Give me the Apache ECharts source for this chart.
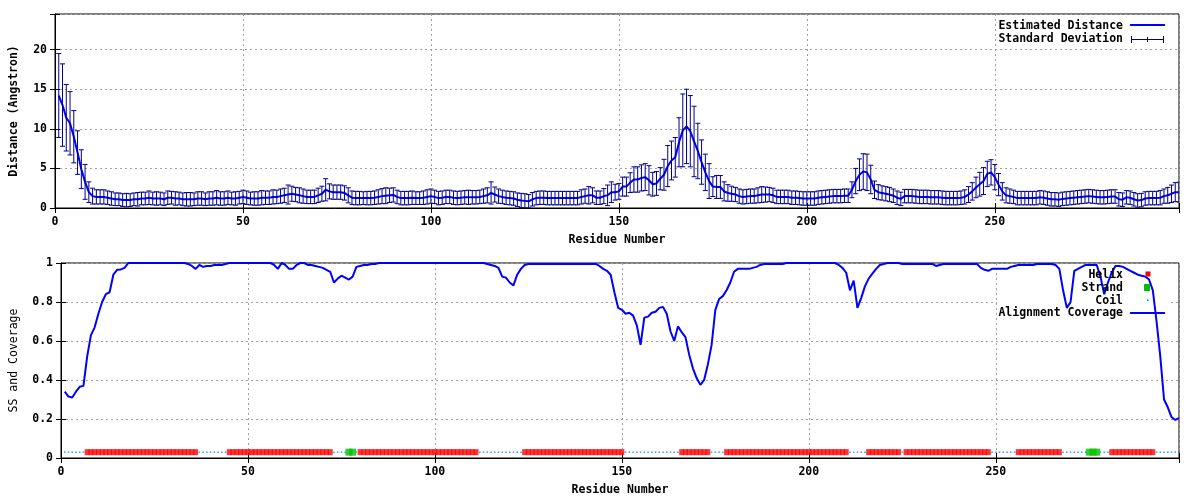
<!DOCTYPE html>
<html><head><meta charset="utf-8">
<script src="https://cdn.jsdelivr.net/npm/echarts@6/dist/echarts.min.js"></script>
<style>html,body{margin:0;padding:0;background:#fff}#chart{width:1200px;height:500px}</style>
</head><body><div id="chart"></div>
<script>
// Estimated distance per residue (residue 1..299)
const distance = [
 14.2,13.0,11.4,10.7,9.0,7.0,4.9,3.3,2.0,1.5,
 1.4,1.4,1.4,1.3,1.2,1.1,1.1,1.0,1.0,1.0,
 1.1,1.1,1.2,1.2,1.3,1.2,1.2,1.2,1.1,1.3,
 1.3,1.2,1.2,1.1,1.1,1.1,1.1,1.2,1.2,1.1,
 1.2,1.2,1.3,1.2,1.2,1.3,1.2,1.2,1.3,1.4,
 1.3,1.2,1.2,1.2,1.3,1.3,1.3,1.4,1.4,1.5,
 1.6,1.7,1.8,1.7,1.6,1.5,1.4,1.4,1.4,1.6,
 1.8,2.3,2.1,2.0,2.0,2.0,1.9,1.6,1.3,1.25,
 1.25,1.25,1.25,1.25,1.3,1.4,1.5,1.55,1.6,1.65,
 1.4,1.25,1.25,1.25,1.3,1.25,1.25,1.3,1.4,1.5,
 1.4,1.25,1.3,1.4,1.4,1.3,1.25,1.3,1.35,1.35,
 1.35,1.35,1.4,1.5,1.6,1.9,1.7,1.5,1.4,1.3,
 1.25,1.2,1.05,0.95,0.9,0.85,1.1,1.25,1.3,1.3,
 1.25,1.25,1.25,1.25,1.25,1.25,1.25,1.25,1.25,1.4,
 1.5,1.6,1.6,1.3,1.3,1.5,1.6,2.0,2.0,2.1,
 2.7,2.7,3.2,3.6,3.6,3.8,3.9,3.5,3.0,3.1,
 3.7,4.2,5.3,6.0,6.4,8.3,9.8,10.3,9.7,8.4,
 7.2,5.8,4.5,3.4,2.7,2.66,2.66,2.1,1.9,1.8,
 1.7,1.5,1.4,1.45,1.5,1.5,1.6,1.7,1.7,1.7,
 1.6,1.4,1.4,1.4,1.4,1.3,1.3,1.25,1.2,1.2,
 1.2,1.2,1.3,1.35,1.4,1.45,1.5,1.5,1.5,1.55,
 1.55,2.3,3.4,4.2,4.6,4.5,3.6,2.3,2.0,1.9,
 1.8,1.7,1.55,1.3,1.15,1.5,1.5,1.5,1.45,1.4,
 1.4,1.4,1.35,1.35,1.35,1.3,1.25,1.25,1.25,1.25,
 1.3,1.4,1.7,2.1,2.6,3.0,3.4,4.3,4.5,3.9,
 2.95,2.1,1.6,1.5,1.4,1.25,1.25,1.25,1.25,1.25,
 1.25,1.35,1.3,1.2,1.1,1.1,1.05,1.15,1.2,1.25,
 1.3,1.35,1.4,1.45,1.5,1.45,1.4,1.35,1.35,1.4,
 1.45,1.45,1.1,1.05,1.35,1.3,1.1,0.95,1.0,1.2,
 1.25,1.25,1.25,1.3,1.5,1.6,1.8,2.0,2.0
];
// Standard deviation per residue
const stdDev = [
 5.3,5.2,4.2,4.0,3.3,2.75,2.45,2.2,1.3,1.0,
 0.9,0.9,0.9,0.85,0.85,0.8,0.8,0.8,0.85,0.8,
 0.8,0.85,0.8,0.8,0.85,0.8,0.85,0.8,0.8,0.85,
 0.8,0.85,0.8,0.8,0.85,0.85,0.8,0.85,0.85,0.8,
 0.85,0.85,0.9,0.85,0.85,0.85,0.8,0.85,0.8,0.85,
 0.85,0.8,0.85,0.85,0.9,0.85,0.85,0.9,0.85,0.9,
 0.9,1.2,0.95,0.9,0.95,0.9,0.85,0.85,0.85,0.9,
 0.95,1.4,0.95,0.9,0.9,0.9,0.9,0.95,0.85,0.85,
 0.85,0.8,0.85,0.85,0.85,0.9,0.95,1.0,0.9,0.9,
 0.85,0.85,0.85,0.85,0.85,0.8,0.8,0.85,0.9,0.9,
 0.85,0.85,0.85,0.85,0.85,0.85,0.85,0.85,0.85,0.9,
 0.85,0.85,0.85,0.9,0.95,1.4,0.95,0.9,0.85,0.85,
 0.85,0.85,0.85,0.9,0.9,0.85,0.85,0.85,0.85,0.85,
 0.85,0.85,0.85,0.85,0.85,0.85,0.85,0.85,0.85,0.9,
 0.9,1.1,0.95,0.85,0.85,0.95,1.3,1.3,1.0,1.0,
 1.2,1.2,1.25,1.6,1.6,1.65,1.7,1.85,1.5,1.5,
 1.4,1.95,2.6,2.45,2.5,3.1,4.6,4.7,4.5,4.45,
 3.5,2.8,2.3,2.2,1.25,1.45,1.45,1.2,1.05,0.95,
 0.9,0.9,0.9,0.9,0.9,0.9,0.95,1.0,0.95,0.9,
 0.9,0.85,0.85,0.85,0.85,0.85,0.85,0.85,0.85,0.85,
 0.85,0.85,0.85,0.85,0.85,0.85,0.85,0.85,0.85,0.85,
 0.85,1.0,1.6,2.0,2.25,2.3,1.8,1.1,0.95,0.9,
 0.9,0.9,0.85,0.85,0.85,0.85,0.85,0.85,0.85,0.85,
 0.85,0.85,0.85,0.85,0.85,0.85,0.85,0.85,0.85,0.85,
 0.85,0.9,1.0,1.1,1.3,1.5,1.7,1.6,1.6,1.6,
 1.4,1.1,0.95,0.9,0.85,0.85,0.85,0.85,0.85,0.85,
 0.85,0.85,0.85,0.85,0.85,0.85,0.85,0.85,0.85,0.85,
 0.85,0.85,0.85,0.85,0.85,0.85,0.85,0.85,0.85,0.85,
 0.85,0.85,0.85,0.85,0.85,0.85,0.85,0.85,0.85,0.85,
 0.85,0.85,0.85,0.9,0.9,1.0,1.1,1.2,1.25
];
// Alignment coverage per residue
const coverage = [
 0.34,0.315,0.31,0.34,0.365,0.37,0.52,0.63,0.67,0.74,
 0.8,0.84,0.85,0.94,0.965,0.967,0.975,1,1,1,
 1,1,1,1,1,1,1,1,1,1,
 1,1,1,0.995,0.985,0.97,0.99,0.98,0.985,0.985,
 0.99,0.99,0.99,0.995,1,1,1,1,1,1,
 1,1,1,1,1,1,0.99,0.97,1,0.99,
 0.97,0.97,0.99,1,1,0.99,0.99,0.985,0.98,0.975,
 0.965,0.955,0.9,0.92,0.935,0.925,0.915,0.93,0.98,0.985,
 0.99,0.99,0.995,0.995,1,1,1,1,1,1,
 1,1,1,1,1,1,1,1,1,1,
 1,1,1,1,1,1,1,1,1,1,
 1,1,1,0.995,0.99,0.985,0.975,0.93,0.925,0.9,
 0.885,0.94,0.97,0.99,0.995,0.995,0.995,0.995,0.995,0.995,
 0.995,0.995,0.995,0.995,0.995,0.995,0.995,0.995,0.995,0.995,
 0.995,0.995,0.995,0.985,0.97,0.96,0.94,0.85,0.77,0.76,
 0.74,0.745,0.73,0.68,0.58,0.72,0.725,0.745,0.75,0.77,
 0.775,0.74,0.65,0.6,0.675,0.645,0.62,0.53,0.46,0.41,
 0.375,0.4,0.48,0.58,0.76,0.815,0.83,0.86,0.9,0.955,
 0.97,0.97,0.97,0.97,0.975,0.98,0.99,0.995,0.995,0.995,
 0.995,0.995,0.995,1,1,1,1,1,1,1,
 1,1,1,1,1,1,1,0.99,0.975,0.95,
 0.86,0.91,0.77,0.82,0.88,0.92,0.945,0.97,0.99,0.995,
 1,1,1,1,0.995,0.995,0.995,0.995,0.995,0.995,
 0.995,0.995,0.995,0.985,0.99,0.995,0.995,0.995,0.995,0.995,
 0.995,0.995,0.995,0.995,0.995,0.975,0.965,0.96,0.97,0.97,
 0.97,0.97,0.97,0.98,0.985,0.99,0.99,0.99,0.99,0.99,
 0.995,0.995,0.995,0.995,0.995,0.99,0.97,0.86,0.77,0.8,
 0.96,0.97,0.98,0.99,0.99,0.99,0.99,0.93,0.84,0.9,
 0.95,0.985,0.985,0.98,0.97,0.96,0.95,0.94,0.935,0.93,
 0.915,0.86,0.7,0.52,0.3,0.26,0.21,0.195,0.205
];
// Secondary structure segments [first, last residue]
const helixSegments = [[7,36],[45,72],[80,111],[124,150],[166,173],[178,210],[216,224],[226,248],[256,267],[281,292]];
const strandSegments = [[77,78],[275,277]];
const xTickValues = [0,50,100,150,200,250];
const distTickValues = [0,5,10,15,20];

const SS_LEVEL = 0.03;
const residues = distance.map((_, i) => i + 1);
const inSegs = (r, segs) => segs.some(s => r >= s[0] && r <= s[1]);
const helixPts = residues.filter(r => inSegs(r, helixSegments)).map(r => [r, SS_LEVEL]);
const strandPts = residues.filter(r => inSegs(r, strandSegments)).map(r => [r, SS_LEVEL]);
const coilPts = residues.filter(r => !inSegs(r, helixSegments) && !inSegs(r, strandSegments)).map(r => [r, SS_LEVEL]);

const FONT = '"DejaVu Sans Mono", "Liberation Mono", monospace';
const NAVY = '#00008b';
const BLUE = '#0000ff';
const lab = { fontFamily: FONT, fontSize: 11.5, fontWeight: 'bold', color: '#000' };
const gridLine = { show: true, lineStyle: { color: '#a0a0a0', type: [2, 3], width: 1 } };

function xAxes(gi) {
  return [{
    gridIndex: gi, type: 'value', min: 0, max: 299, interval: 50, position: 'bottom',
    axisLine: { show: true, lineStyle: { color: '#000' } },
    axisTick: { show: true, inside: true, length: 5, lineStyle: { color: '#000' } },
    axisLabel: Object.assign({ margin: 8, formatter: v => xTickValues.includes(v) ? String(v) : '' }, lab),
    splitLine: gridLine,
    name: 'Residue Number', nameLocation: 'middle', nameGap: 26, nameTextStyle: lab
  }, {
    gridIndex: gi, type: 'value', min: 0, max: 299, interval: 50, position: 'top',
    axisLine: { show: false }, axisLabel: { show: false }, splitLine: { show: false },
    axisTick: { show: true, inside: true, length: 5, lineStyle: { color: '#000' } }
  }];
}

const option = {
  animation: false,
  backgroundColor: '#fff',
  grid: [
    { left: 52, top: 14, right: 21, height: 194, show: true, borderColor: '#000', borderWidth: 1, containLabel: false },
    { left: 58, top: 263, right: 21, height: 195, show: true, borderColor: '#000', borderWidth: 1, containLabel: false }
  ],
  xAxis: [...xAxes(0), ...xAxes(1)],
  yAxis: [{
    gridIndex: 0, type: 'value', min: 0, max: 24.5, interval: 5, position: 'left',
    axisLine: { show: true, lineStyle: { color: '#000' } },
    axisTick: { show: true, inside: true, length: 5, lineStyle: { color: '#000' } },
    axisLabel: Object.assign({ margin: 8, formatter: v => distTickValues.includes(v) ? String(v) : '' }, lab),
    splitLine: gridLine,
    name: 'Distance (Angstron)', nameLocation: 'middle', nameGap: 35, nameTextStyle: lab
  }, {
    gridIndex: 0, type: 'value', min: 0, max: 24.5, interval: 5, position: 'right',
    axisLine: { show: false }, axisLabel: { show: false }, splitLine: { show: false },
    axisTick: { show: true, inside: true, length: 5, lineStyle: { color: '#000' } }
  }, {
    gridIndex: 1, type: 'value', min: 0, max: 1, interval: 0.2, position: 'left',
    axisLine: { show: true, lineStyle: { color: '#000' } },
    axisTick: { show: true, inside: true, length: 5, lineStyle: { color: '#000' } },
    axisLabel: Object.assign({ margin: 8 }, lab),
    splitLine: gridLine,
    name: 'SS and Coverage', nameLocation: 'middle', nameGap: 41,
    nameTextStyle: { fontFamily: FONT, fontSize: 11.5, fontWeight: 'normal', color: '#000' }
  }, {
    gridIndex: 1, type: 'value', min: 0, max: 1, interval: 0.2, position: 'right',
    axisLine: { show: false }, axisLabel: { show: false }, splitLine: { show: false },
    axisTick: { show: true, inside: true, length: 5, lineStyle: { color: '#000' } }
  }],
  series: [
    {
      name: 'Estimated Distance', type: 'line', xAxisIndex: 0, yAxisIndex: 0,
      data: residues.map((r, i) => [r, distance[i]]),
      showSymbol: false, lineStyle: { color: BLUE, width: 2 }, itemStyle: { color: BLUE }, z: 2
    },
    {
      name: 'Standard Deviation', type: 'custom', xAxisIndex: 0, yAxisIndex: 0, clip: true, z: 3,
      data: residues.map((r, i) => [r, distance[i], stdDev[i]]),
      encode: { x: 0, y: 1 },
      renderItem: function (params, api) {
        const x = api.value(0), d = api.value(1), s = api.value(2);
        const hi = api.coord([x, d + s]);
        const lo = api.coord([x, d - s]);
        const hw = 2.5;
        const st = { stroke: NAVY, lineWidth: 1 };
        return { type: 'group', children: [
          { type: 'line', shape: { x1: hi[0], y1: hi[1], x2: lo[0], y2: lo[1] }, style: st },
          { type: 'line', shape: { x1: hi[0] - hw, y1: hi[1], x2: hi[0] + hw, y2: hi[1] }, style: st },
          { type: 'line', shape: { x1: lo[0] - hw, y1: lo[1], x2: lo[0] + hw, y2: lo[1] }, style: st }
        ] };
      }
    },
    {
      name: 'Helix', type: 'scatter', xAxisIndex: 2, yAxisIndex: 2, data: helixPts,
      symbol: 'rect', symbolSize: [5, 6], itemStyle: { color: '#ff0000' }, z: 2
    },
    {
      name: 'Strand', type: 'scatter', xAxisIndex: 2, yAxisIndex: 2, data: strandPts,
      symbol: 'rect', symbolSize: [7, 7], itemStyle: { color: '#00c000' }, z: 2
    },
    {
      name: 'Coil', type: 'scatter', xAxisIndex: 2, yAxisIndex: 2, data: coilPts,
      symbol: 'rect', symbolSize: [1.5, 1.5], itemStyle: { color: '#0080ff' }, z: 2
    },
    {
      name: 'Alignment Coverage', type: 'line', xAxisIndex: 2, yAxisIndex: 2,
      data: residues.map((r, i) => [r, coverage[i]]),
      showSymbol: false, lineStyle: { color: BLUE, width: 2 }, itemStyle: { color: BLUE }, z: 3
    }
  ],
  graphic: [
    // top key
    { type: 'text', z: 10, style: Object.assign({ text: 'Estimated Distance', x: 1123, y: 26, align: 'right', verticalAlign: 'middle', font: 'bold 11.5px ' + FONT, fill: '#000' }) },
    { type: 'line', z: 10, shape: { x1: 1130, y1: 25, x2: 1165, y2: 25 }, style: { stroke: BLUE, lineWidth: 2 } },
    { type: 'text', z: 10, style: { text: 'Standard Deviation', x: 1123, y: 39, align: 'right', verticalAlign: 'middle', font: 'bold 11.5px ' + FONT, fill: '#000' } },
    { type: 'line', z: 10, shape: { x1: 1131, y1: 39.5, x2: 1164, y2: 39.5 }, style: { stroke: NAVY, lineWidth: 1 } },
    { type: 'line', z: 10, shape: { x1: 1131.5, y1: 36, x2: 1131.5, y2: 43 }, style: { stroke: NAVY, lineWidth: 1 } },
    { type: 'line', z: 10, shape: { x1: 1163.5, y1: 36, x2: 1163.5, y2: 43 }, style: { stroke: NAVY, lineWidth: 1 } },
    { type: 'line', z: 10, shape: { x1: 1147.5, y1: 37, x2: 1147.5, y2: 42 }, style: { stroke: NAVY, lineWidth: 1 } },
    // bottom key background (hides grid lines only)
    { type: 'rect', z: 1, shape: { x: 997, y: 267, width: 172, height: 52 }, style: { fill: '#fff' } },
    { type: 'text', z: 10, style: { text: 'Helix', x: 1123, y: 275, align: 'right', verticalAlign: 'middle', font: 'bold 11.5px ' + FONT, fill: '#000' } },
    { type: 'rect', z: 10, shape: { x: 1145.5, y: 271.5, width: 5, height: 5 }, style: { fill: '#ff0000' } },
    { type: 'text', z: 10, style: { text: 'Strand', x: 1123, y: 288, align: 'right', verticalAlign: 'middle', font: 'bold 11.5px ' + FONT, fill: '#000' } },
    { type: 'rect', z: 10, shape: { x: 1144, y: 284, width: 6, height: 7 }, style: { fill: '#00c000' } },
    { type: 'text', z: 10, style: { text: 'Coil', x: 1123, y: 301, align: 'right', verticalAlign: 'middle', font: 'bold 11.5px ' + FONT, fill: '#000' } },
    { type: 'rect', z: 10, shape: { x: 1147, y: 299.5, width: 1.5, height: 1.5 }, style: { fill: '#0080ff' } },
    { type: 'text', z: 10, style: { text: 'Alignment Coverage', x: 1123, y: 313.5, align: 'right', verticalAlign: 'middle', font: 'bold 11.5px ' + FONT, fill: '#000' } },
    { type: 'line', z: 10, shape: { x1: 1130, y1: 313, x2: 1165, y2: 313 }, style: { stroke: BLUE, lineWidth: 2 } }
  ]
};

const chart = echarts.init(document.getElementById('chart'));
chart.setOption(option);
</script>
</body></html>
